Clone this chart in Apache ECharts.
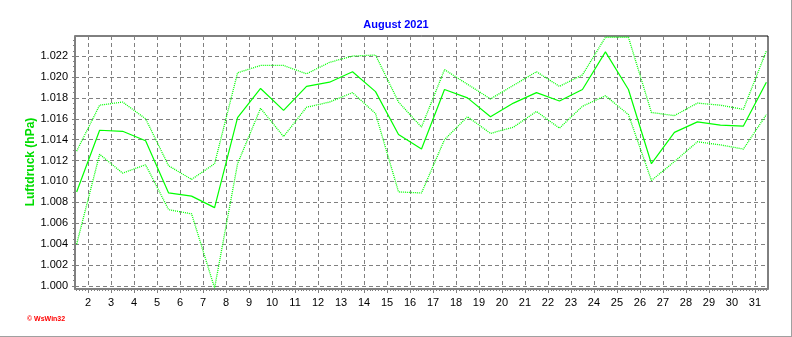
<!DOCTYPE html>
<html>
<head>
<meta charset="utf-8">
<script src="https://cdn.jsdelivr.net/npm/echarts@6/dist/echarts.min.js"></script>
<style>
  html, body { margin: 0; padding: 0; background: #ffffff; }
  #chart { width: 792px; height: 337px; }
</style>
</head>
<body>
<div id="chart"></div>
<script>
// Daily air pressure, August 2021: daily mean, maximum and minimum
const days = [1, 2, 3, 4, 5, 6, 7, 8, 9, 10, 11, 12, 13, 14, 15, 16, 17, 18, 19, 20,
              21, 22, 23, 24, 25, 26, 27, 28, 29, 30, 31];
const pressureMean = [1.0090, 1.0149, 1.0148, 1.0139, 1.0089, 1.0086, 1.0075, 1.0161, 1.0189, 1.0168,
                      1.0191, 1.0195, 1.0205, 1.0186, 1.0145, 1.0131, 1.0188, 1.0180, 1.0162, 1.0175,
                      1.0185, 1.0177, 1.0188, 1.0224, 1.0188, 1.0117, 1.0147, 1.0157, 1.0154, 1.0153,
                      1.0195];
const pressureMax = [1.0129, 1.0173, 1.0176, 1.0160, 1.0115, 1.0102, 1.0117, 1.0204, 1.0211, 1.0211,
                     1.0203, 1.0214, 1.0220, 1.0221, 1.0176, 1.0152, 1.0207, 1.0193, 1.0179, 1.0192,
                     1.0205, 1.0191, 1.0202, 1.0238, 1.0238, 1.0166, 1.0163, 1.0175, 1.0173, 1.0169,
                     1.0225];
const pressureMin = [1.0040, 1.0126, 1.0108, 1.0116, 1.0073, 1.0069, 0.9998, 1.0117, 1.0170, 1.0143,
                     1.0171, 1.0176, 1.0185, 1.0165, 1.0090, 1.0089, 1.0140, 1.0162, 1.0146, 1.0152,
                     1.0167, 1.0151, 1.0172, 1.0182, 1.0164, 1.0101, 1.0119, 1.0138, 1.0135, 1.0131,
                     1.0164];
const dayLabels = [2, 3, 4, 5, 6, 7, 8, 9, 10, 11, 12, 13, 14, 15, 16, 17, 18, 19, 20, 21,
                   22, 23, 24, 25, 26, 27, 28, 29, 30, 31];
const pressureLabels = [1.000, 1.002, 1.004, 1.006, 1.008, 1.010, 1.012, 1.014, 1.016, 1.018, 1.020, 1.022];

const X_MIN = 1.429, X_MAX = 31.57;
const Y_MIN = 0.99971, Y_MAX = 1.02392;
const FONT = '"Liberation Sans", Arial, sans-serif';
const LINE_GREEN = '#00ff00';

// daily values sit at midday of each day
const toPoints = (vals) => vals.map((v, i) => [days[i] + 0.5, v]);

// 3-hour minor ticks along the time axis
const minorDayTicks = [];
for (let t = Math.ceil(X_MIN * 8); t <= Math.floor(X_MAX * 8); t++) minorDayTicks.push(t / 8);
// minor ticks on the pressure axis
const minorPressureTicks = [];
for (let k = 0; k <= 48; k++) minorPressureTicks.push(+(1.000 + k * 0.0005).toFixed(4));

const chart = echarts.init(document.getElementById('chart'), null, { renderer: 'canvas' });

const gridDash = { color: '#808080', width: 1, type: [4, 3] };

chart.setOption({
  animation: false,
  backgroundColor: '#ffffff',
  title: {
    text: 'August 2021',
    left: 'center',
    top: 14,
    textStyle: { fontFamily: FONT, fontSize: 11, fontWeight: 'bold', color: '#0000ff' }
  },
  grid: {
    left: 75, right: 24, top: 36, bottom: 48,
    show: true, borderColor: '#000000', borderWidth: 1, backgroundColor: '#ffffff'
  },
  xAxis: [
    {
      type: 'value', min: X_MIN, max: X_MAX, position: 'bottom',
      axisLine: { show: true, onZero: false, lineStyle: { color: '#808080', width: 2 } },
      axisTick: { show: true, length: 4, customValues: dayLabels, lineStyle: { color: '#808080' } },
      axisLabel: {
        customValues: dayLabels, margin: 8,
        fontFamily: FONT, fontSize: 11, color: '#000000',
        formatter: (v) => String(Math.round(v))
      },
      splitLine: { show: true, lineStyle: gridDash }
    },
    {
      type: 'value', min: X_MIN, max: X_MAX, position: 'bottom',
      axisLine: { show: false, onZero: false },
      axisTick: { show: true, length: 2, customValues: minorDayTicks, lineStyle: { color: '#808080' } },
      axisLabel: { show: false },
      splitLine: { show: false }
    }
  ],
  yAxis: [
    {
      type: 'value', min: Y_MIN, max: Y_MAX, position: 'left',
      axisLine: { show: true, onZero: false, lineStyle: { color: '#808080', width: 2 } },
      axisTick: { show: true, length: 3, customValues: pressureLabels, lineStyle: { color: '#808080' } },
      axisLabel: {
        customValues: pressureLabels, margin: 7,
        fontFamily: FONT, fontSize: 11, color: '#000000',
        formatter: (v) => v.toFixed(3)
      },
      splitLine: { show: true, lineStyle: gridDash }
    },
    {
      type: 'value', min: Y_MIN, max: Y_MAX, position: 'left',
      axisLine: { show: false, onZero: false },
      axisTick: { show: true, length: 2, customValues: minorPressureTicks, lineStyle: { color: '#808080' } },
      axisLabel: { show: false },
      splitLine: { show: false }
    }
  ],
  series: [
    {
      name: 'Maximum', type: 'line', xAxisIndex: 0, yAxisIndex: 0,
      data: toPoints(pressureMax), symbol: 'none', clip: true,
      lineStyle: { color: LINE_GREEN, width: 1.3, type: [1, 1] }
    },
    {
      name: 'Minimum', type: 'line', xAxisIndex: 0, yAxisIndex: 0,
      data: toPoints(pressureMin), symbol: 'none', clip: true,
      lineStyle: { color: LINE_GREEN, width: 1.3, type: [1, 1] }
    },
    {
      name: 'Mittel', type: 'line', xAxisIndex: 0, yAxisIndex: 0,
      data: toPoints(pressureMean), symbol: 'none', clip: true,
      lineStyle: { color: LINE_GREEN, width: 1.2, type: 'solid' }
    }
  ],
  graphic: [
    {
      type: 'text', x: 31, y: 162, rotation: Math.PI / 2,
      style: {
        text: 'Luftdruck (hPa)', fill: '#00dd00',
        font: 'bold 12px ' + FONT, align: 'center', verticalAlign: 'middle'
      }
    },
    {
      type: 'text', x: 27, y: 319,
      style: {
        text: '\u00a9 WsWin32', fill: '#ff0000',
        font: 'bold 7px ' + FONT, align: 'left', verticalAlign: 'middle'
      }
    },
    {
      type: 'line', shape: { x1: 791.5, y1: 0, x2: 791.5, y2: 337 },
      style: { stroke: '#a0a0a0', lineWidth: 1 }
    },
    {
      type: 'line', shape: { x1: 0, y1: 336.5, x2: 792, y2: 336.5 },
      style: { stroke: '#a0a0a0', lineWidth: 1 }
    }
  ]
});
</script>
</body>
</html>
